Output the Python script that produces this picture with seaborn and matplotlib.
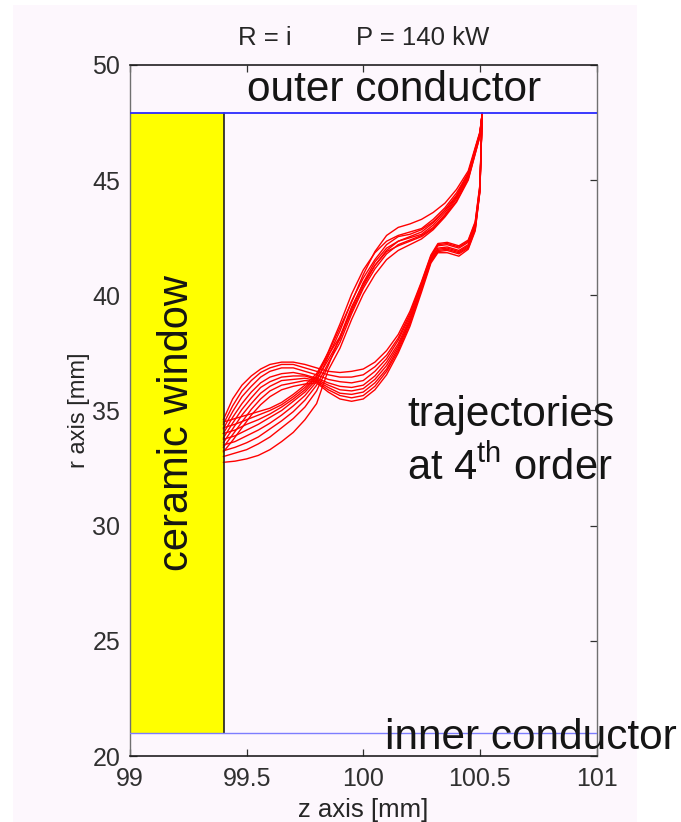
import matplotlib
matplotlib.use("Agg")
import matplotlib.pyplot as plt
from matplotlib.patches import Rectangle
import seaborn as sns

# z positions shared by each family of trajectories [mm]
z_lower_exit = [99.4, 99.44, 99.48, 99.52, 99.56, 99.6, 99.65, 99.7, 99.75, 99.8, 99.85, 99.9, 99.95, 100,
                100.05, 100.1, 100.15, 100.2, 100.25, 100.29, 100.32, 100.36, 100.41, 100.45, 100.48, 100.5, 100.51]
z_upper_exit = [99.4, 99.45, 99.5, 99.55, 99.6, 99.65, 99.7, 99.75, 99.8, 99.85, 99.9, 99.95, 100,
                100.05, 100.1, 100.15, 100.2, 100.25, 100.3, 100.35, 100.4, 100.45, 100.5, 100.51]

# trajectories that hump over at z=99.7, then exit through the lower path
a1 = [34.6, 35.5, 36.1, 36.5, 36.8, 37.0, 37.1, 37.1, 37.0, 36.85, 36.7, 36.65, 36.7, 36.8, 37.1, 37.6, 38.3, 39.3, 40.6, 41.75, 42.25, 42.3, 42.15, 42.4, 43.2, 44.8, 47.9]
a2 = [34.4, 35.2, 35.85, 36.3, 36.65, 36.85, 37.0, 37.0, 36.85, 36.7, 36.55, 36.45, 36.45, 36.55, 36.9, 37.4, 38.15, 39.2, 40.55, 41.7, 42.2, 42.25, 42.1, 42.35, 43.15, 44.75, 47.9]
a3 = [34.2, 34.95, 35.6, 36.05, 36.45, 36.7, 36.85, 36.85, 36.7, 36.55, 36.35, 36.25, 36.2, 36.3, 36.7, 37.25, 38.05, 39.1, 40.45, 41.65, 42.15, 42.2, 42.05, 42.3, 43.1, 44.7, 47.9]
a4 = [34.0, 34.7, 35.3, 35.8, 36.2, 36.45, 36.6, 36.65, 36.55, 36.4, 36.2, 36.05, 36.0, 36.1, 36.5, 37.1, 37.9, 39.0, 40.4, 41.6, 42.05, 42.1, 41.95, 42.2, 43.0, 44.6, 47.9]
a5 = [33.8, 34.45, 35.05, 35.55, 36.0, 36.25, 36.45, 36.5, 36.5, 36.35, 36.1, 35.9, 35.85, 35.95, 36.35, 36.95, 37.8, 38.9, 40.35, 41.55, 42.0, 42.05, 41.9, 42.15, 42.95, 44.55, 47.9]
a6 = [33.6, 34.2, 34.8, 35.3, 35.75, 36.05, 36.3, 36.35, 36.4, 36.3, 36.0, 35.75, 35.7, 35.8, 36.2, 36.8, 37.7, 38.85, 40.3, 41.5, 41.95, 42.0, 41.85, 42.1, 42.9, 44.55, 47.9]
a7 = [33.4, 33.95, 34.5, 35.05, 35.5, 35.85, 36.1, 36.2, 36.3, 36.25, 35.9, 35.65, 35.55, 35.65, 36.05, 36.7, 37.6, 38.75, 40.25, 41.45, 41.9, 41.95, 41.8, 42.05, 42.85, 44.5, 47.9]
a8 = [33.2, 33.7, 34.25, 34.8, 35.25, 35.6, 35.9, 36.05, 36.15, 36.2, 35.8, 35.5, 35.4, 35.5, 35.9, 36.55, 37.5, 38.65, 40.15, 41.4, 41.85, 41.85, 41.7, 42.0, 42.8, 44.5, 47.9]

# trajectories that stay low first, then exit through the upper path
b1 = [34.5, 34.65, 34.8, 34.95, 35.1, 35.35, 35.7, 36.1, 36.6, 37.5, 38.6, 39.7, 40.9, 41.9, 42.6, 42.95, 43.1, 43.3, 43.6, 44.0, 44.6, 45.4, 47.1, 47.9]
b2 = [34.25, 34.4, 34.6, 34.8, 35.0, 35.25, 35.6, 36.0, 36.5, 37.4, 38.2, 39.3, 40.4, 41.3, 41.95, 42.35, 42.55, 42.75, 43.15, 43.7, 44.35, 45.3, 47.05, 47.9]
b3 = [34.0, 34.15, 34.4, 34.6, 34.85, 35.15, 35.5, 35.9, 36.45, 37.55, 38.75, 40.05, 41.1, 41.85, 42.35, 42.6, 42.75, 42.9, 43.3, 43.8, 44.45, 45.3, 47.05, 47.9]
b4 = [33.75, 33.9, 34.15, 34.4, 34.7, 35.0, 35.4, 35.8, 36.35, 37.2, 38.1, 39.4, 40.55, 41.45, 42.05, 42.35, 42.5, 42.65, 43.05, 43.6, 44.25, 45.2, 47.0, 47.9]
b5 = [33.5, 33.65, 33.9, 34.15, 34.45, 34.8, 35.2, 35.65, 36.25, 37.35, 38.45, 39.75, 40.75, 41.55, 42.2, 42.55, 42.65, 42.85, 43.2, 43.7, 44.3, 45.2, 47.0, 47.9]
b6 = [33.25, 33.4, 33.6, 33.85, 34.2, 34.55, 34.95, 35.45, 36.1, 37.05, 37.95, 39.2, 40.3, 41.15, 41.8, 42.2, 42.4, 42.6, 42.95, 43.5, 44.2, 45.1, 46.95, 47.9]
b7 = [33.0, 33.15, 33.3, 33.55, 33.85, 34.25, 34.65, 35.15, 35.85, 36.95, 38.2, 39.5, 40.5, 41.3, 41.9, 42.15, 42.35, 42.55, 42.9, 43.45, 44.1, 45.05, 46.9, 47.9]
b8 = [32.75, 32.8, 32.9, 33.05, 33.3, 33.65, 34.05, 34.6, 35.3, 36.75, 37.7, 38.95, 40.05, 40.9, 41.55, 41.95, 42.2, 42.45, 42.85, 43.4, 44.05, 45.0, 46.9, 47.9]

lower_exit = [a1, a2, a3, a4, a5, a6, a7, a8]
upper_exit = [b1, b2, b3, b4, b5, b6, b7, b8]

x_ticks = [99, 99.5, 100, 100.5, 101]
x_tick_labels = ["99", "99.5", "100", "100.5", "101"]
y_ticks = [20, 25, 30, 35, 40, 45, 50]

window_z = 99.405
outer_r = 47.9
inner_r = 21

BG = "#fdf7fd"
TEXT = "#262626"

sns.set_style("ticks")
plt.rcParams["font.family"] = ["Liberation Sans", "DejaVu Sans"]
plt.rcParams["mathtext.fontset"] = "custom"
plt.rcParams["mathtext.rm"] = "Liberation Sans"

fig = plt.figure(figsize=(6.81, 8.22), dpi=100)
fig.patch.set_facecolor("white")
fig.patches.append(Rectangle((13 / 681, 0), 624 / 681, 817 / 822, transform=fig.transFigure,
                             facecolor=BG, edgecolor="none", zorder=-10, figure=fig))

ax = fig.add_axes([130 / 681, 1 - 756 / 822, 466.5 / 681, 691 / 822])
ax.set_facecolor(BG)

# ceramic window and the two conductors
ax.fill_between([99, window_z], inner_r, outer_r, color="#ffff00", linewidth=0, zorder=1)
ax.plot([window_z, window_z], [inner_r, outer_r], color="#202020", lw=1.2, zorder=4)
ax.plot([99, 101], [outer_r, outer_r], color="#2a2aff", lw=1.3, zorder=4)
ax.plot([99, 101], [inner_r, inner_r], color="#7d7dff", lw=1.0, zorder=4)

for r in lower_exit:
    sns.lineplot(x=z_lower_exit, y=r, ax=ax, color="#ff0000", lw=1.0, sort=False,
                 estimator=None, zorder=3)
for r in upper_exit:
    sns.lineplot(x=z_upper_exit, y=r, ax=ax, color="#ff0000", lw=1.0, sort=False,
                 estimator=None, zorder=3)

ax.set_xlim(99, 101)
ax.set_ylim(20, 50)
ax.set_xticks(x_ticks)
ax.set_xticklabels(x_tick_labels)
ax.set_yticks(y_ticks)
ax.tick_params(axis="both", direction="in", top=True, right=True, length=5, width=0.9,
               labelsize=18, labelcolor="#303030", color="#303030")
ax.tick_params(axis="x", pad=8)
ax.tick_params(axis="y", pad=7)
ax.set_xlabel("z axis [mm]", fontsize=18.5, color=TEXT, labelpad=5)
ax.set_ylabel("r axis [mm]", fontsize=17, color=TEXT, labelpad=2)
for side in ["top", "bottom"]:
    ax.spines[side].set_color("#202020")
    ax.spines[side].set_linewidth(1.2)
for side in ["left", "right"]:
    ax.spines[side].set_color("#707070")
    ax.spines[side].set_linewidth(1.0)

# annotations, placed in figure pixels from the top left
def put(x, y, s, size, **kw):
    fig.text(x / 681, 1 - y / 822, s, fontsize=size, color=kw.pop("color", "#151515"),
             va="center", **kw)

put(238, 38, "R = i", 18.5, color=TEXT)
put(356, 38, "P = 140 kW", 18.5, color=TEXT)
put(247, 90, "outer conductor", 30.5)
put(177, 423, "ceramic window", 30, rotation=90, ha="center")
put(407, 415, "trajectories", 30.5)
put(407, 467, "at 4$^{\\mathrm{th}}$ order", 30)
put(385, 738, "inner conductor", 30.5)

fig.savefig("out.png", dpi=100)
